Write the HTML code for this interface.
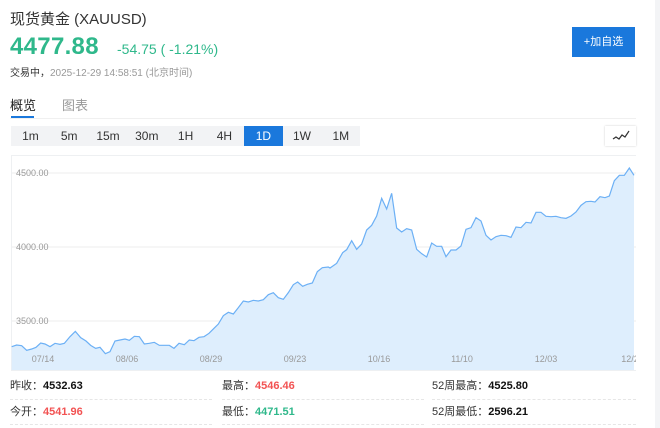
<!DOCTYPE html>
<html><head><meta charset="utf-8">
<style>
*{margin:0;padding:0;box-sizing:border-box}
body{width:660px;height:428px;background:#fff;font-family:"Liberation Sans","Noto Sans CJK SC",sans-serif;position:relative;overflow:hidden;color:#333}
.a{position:absolute;white-space:nowrap}
.tb{position:absolute;top:126px;height:20px;width:38.8px;font-size:12px;line-height:20px;text-align:center;color:#333}
.st{font-size:11px;line-height:14px}
.st b{font-weight:bold;color:#111}
.dash{position:absolute;height:0;border-top:1px dashed #e6e6e6}
</style></head><body>
<div class="a" style="right:0;top:0;width:5px;height:428px;background:#f3f4f6"></div>
<div class="a" style="left:10px;top:8px;font-size:15px;color:#333">现货黄金 (XAUUSD)</div>
<div class="a" style="left:10px;top:33px;font-size:24px;font-weight:bold;color:#2fb88b;letter-spacing:0.3px">4477.88</div>
<div class="a" style="left:117px;top:41px;font-size:14px;color:#2fb88b">-54.75 ( -1.21%)</div>
<div class="a" style="left:10px;top:64px;font-size:10px;color:#999"><span style="color:#333">交易中，</span>2025-12-29 14:58:51 (北京时间)</div>
<div class="a" style="left:572px;top:27px;width:63px;height:30px;background:#1a78dc;color:#fff;font-size:11px;line-height:30px;text-align:center">+加自选</div>
<div class="a" style="left:10px;top:95px;font-size:13px;color:#222">概览</div>
<div class="a" style="left:62px;top:95px;font-size:13px;color:#999">图表</div>
<div class="a" style="left:11px;top:116px;width:23px;height:2px;background:#1a78dc"></div>
<div class="a" style="left:10px;top:118px;width:626px;height:1px;background:#f0f0f0"></div>
<div class="a" style="left:11px;top:126px;width:349px;height:20px;background:#f2f3f5"></div>
<div class="tb" style="left:11px">1m</div>
<div class="tb" style="left:49.8px">5m</div>
<div class="tb" style="left:88.6px">15m</div>
<div class="tb" style="left:127.4px">30m</div>
<div class="tb" style="left:166.2px">1H</div>
<div class="tb" style="left:205px">4H</div>
<div class="tb" style="left:244px;background:#1a78dc;color:#fff">1D</div>
<div class="tb" style="left:282.6px">1W</div>
<div class="tb" style="left:321.4px">1M</div>
<div class="a" style="left:605px;top:126px;width:31px;height:20px;background:#fff;box-shadow:0 0 2px rgba(0,0,0,.2)">
<svg width="31" height="20"><polyline points="8,13 11,11 14,13 17,9 20,11 24,5" fill="none" stroke="#333" stroke-width="1.2"/></svg></div>
<svg class="a" style="left:0;top:0" width="660" height="428">
<rect x="11.5" y="155.5" width="625" height="215" fill="#fff" stroke="#eef0f2"/>
<line x1="12" y1="173" x2="636" y2="173" stroke="#eeeeee"/>
<line x1="12" y1="247" x2="636" y2="247" stroke="#eeeeee"/>
<line x1="12" y1="321" x2="636" y2="321" stroke="#eeeeee"/>
<g transform="translate(0,150) scale(0.33333)">
<polygon fill="#deeefd" points="35,660 35,590 50,585 65,587 80,601 95,597 108,592 122,579 135,582 150,590 165,580 180,583 193,580 210,560 226,544 242,563 258,573 272,586 287,595 300,592 316,611 330,605 345,573 360,570 375,567 388,571 403,559 418,560 433,582 448,580 463,577 478,586 495,586 508,586 522,595 537,580 553,584 568,570 582,572 597,562 612,560 627,550 642,535 655,522 670,497 685,487 700,492 715,473 730,453 745,456 760,451 775,453 790,449 805,434 820,428 835,443 850,448 865,428 880,404 893,396 908,409 922,403 937,399 952,365 967,353 985,351 990,354 1010,340 1028,308 1040,299 1055,272 1070,298 1085,282 1100,240 1115,226 1130,198 1145,145 1160,177 1175,130 1190,234 1205,246 1220,236 1235,240 1250,298 1265,311 1280,321 1295,279 1310,289 1325,289 1338,320 1353,300 1368,300 1383,288 1398,238 1413,233 1428,203 1443,213 1458,256 1473,270 1488,260 1503,256 1518,257 1533,262 1548,231 1563,233 1578,217 1593,219 1608,187 1623,187 1638,199 1653,200 1668,199 1683,203 1698,205 1713,198 1728,186 1743,166 1758,155 1773,154 1785,156 1800,140 1815,143 1828,138 1843,92 1858,76 1873,76 1888,54 1902,76 1902,660"/>
<polyline fill="none" stroke="#6cb0f5" stroke-width="1.2" vector-effect="non-scaling-stroke" points="35,590 50,585 65,587 80,601 95,597 108,592 122,579 135,582 150,590 165,580 180,583 193,580 210,560 226,544 242,563 258,573 272,586 287,595 300,592 316,611 330,605 345,573 360,570 375,567 388,571 403,559 418,560 433,582 448,580 463,577 478,586 495,586 508,586 522,595 537,580 553,584 568,570 582,572 597,562 612,560 627,550 642,535 655,522 670,497 685,487 700,492 715,473 730,453 745,456 760,451 775,453 790,449 805,434 820,428 835,443 850,448 865,428 880,404 893,396 908,409 922,403 937,399 952,365 967,353 985,351 990,354 1010,340 1028,308 1040,299 1055,272 1070,298 1085,282 1100,240 1115,226 1130,198 1145,145 1160,177 1175,130 1190,234 1205,246 1220,236 1235,240 1250,298 1265,311 1280,321 1295,279 1310,289 1325,289 1338,320 1353,300 1368,300 1383,288 1398,238 1413,233 1428,203 1443,213 1458,256 1473,270 1488,260 1503,256 1518,257 1533,262 1548,231 1563,233 1578,217 1593,219 1608,187 1623,187 1638,199 1653,200 1668,199 1683,203 1698,205 1713,198 1728,186 1743,166 1758,155 1773,154 1785,156 1800,140 1815,143 1828,138 1843,92 1858,76 1873,76 1888,54 1902,76"/>
</g>
<g font-family="Liberation Sans,sans-serif" font-size="9" fill="#999">
<text x="16" y="176">4500.00</text>
<text x="16" y="250">4000.00</text>
<text x="16" y="324">3500.00</text>
<g text-anchor="middle">
<text x="43" y="362">07/14</text>
<text x="127" y="362">08/06</text>
<text x="211" y="362">08/29</text>
<text x="295" y="362">09/23</text>
<text x="379" y="362">10/16</text>
<text x="462" y="362">11/10</text>
<text x="546" y="362">12/03</text>
<text x="630" y="362">12/2</text>
</g></g>
<rect x="636" y="150" width="10" height="225" fill="#fff"/>
</svg>
<div class="a st" style="left:10px;top:379px">昨收：<b>4532.63</b></div>
<div class="a st" style="left:10px;top:405px">今开：<b style="color:#f25353">4541.96</b></div>
<div class="a st" style="left:222px;top:379px">最高：<b style="color:#f25353">4546.46</b></div>
<div class="a st" style="left:222px;top:405px">最低：<b style="color:#2fb88b">4471.51</b></div>
<div class="a st" style="left:432px;top:379px">52周最高：<b>4525.80</b></div>
<div class="a st" style="left:432px;top:405px">52周最低：<b>2596.21</b></div>
<div class="dash" style="left:10px;top:399px;width:202px"></div>
<div class="dash" style="left:222px;top:399px;width:202px"></div>
<div class="dash" style="left:432px;top:399px;width:204px"></div>
<div class="dash" style="left:10px;top:424px;width:202px"></div>
<div class="dash" style="left:222px;top:424px;width:202px"></div>
<div class="dash" style="left:432px;top:424px;width:204px"></div>
</body></html>
